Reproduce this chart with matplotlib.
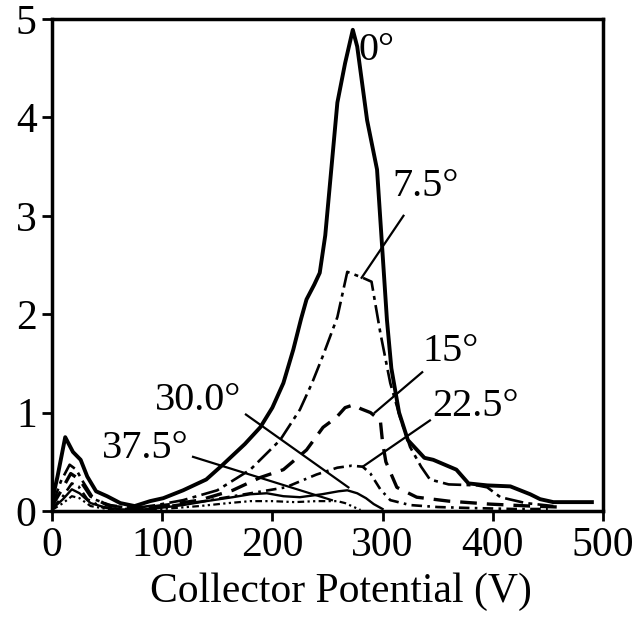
import matplotlib
matplotlib.use("Agg")
import matplotlib.pyplot as plt

plt.rcParams['font.family'] = ['Liberation Serif', 'DejaVu Serif']

# collector current vs collector potential, one curve per angle
x0 = [0, 5, 12, 19, 26, 32, 40, 50, 62, 75, 89, 101, 119, 140, 155, 175, 189, 200, 210, 219,
      226, 231, 238, 243, 248, 252, 259, 266, 273, 277, 286, 295, 298, 300, 304, 308, 315,
      323, 338, 346, 367, 378, 395, 416, 434, 443, 455, 490]
y0 = [0.1, 0.35, 0.75, 0.6, 0.52, 0.35, 0.2, 0.15, 0.08, 0.05, 0.1, 0.13, 0.21, 0.32, 0.47,
      0.68, 0.85, 1.05, 1.3, 1.64, 1.95, 2.15, 2.3, 2.42, 2.8, 3.29, 4.15, 4.55, 4.89, 4.72,
      3.97, 3.47, 2.96, 2.62, 1.94, 1.45, 1.0, 0.72, 0.54, 0.52, 0.42, 0.28, 0.26, 0.25, 0.17,
      0.12, 0.09, 0.09]

x75 = [0, 8, 16, 22, 28, 38, 55, 75, 95, 119, 150, 180, 207, 225, 236, 246, 259, 268, 282,
       290, 298, 307, 316, 325, 335, 343, 360, 386, 395, 407, 430, 455]
y75 = [0.05, 0.3, 0.47, 0.42, 0.3, 0.12, 0.05, 0.03, 0.06, 0.11, 0.21, 0.42, 0.72, 1.03,
       1.3, 1.58, 1.97, 2.43, 2.37, 2.33, 1.81, 1.3, 0.95, 0.65, 0.45, 0.32, 0.27, 0.26, 0.24,
       0.14, 0.08, 0.05]

x15 = [0, 8, 17, 25, 35, 50, 70, 90, 110, 134, 164, 189, 210, 231, 246, 258, 266, 274, 280,
       289, 298, 300, 303, 313, 331, 360, 397, 434, 460]
y15 = [0.05, 0.2, 0.38, 0.32, 0.15, 0.06, 0.03, 0.04, 0.07, 0.11, 0.21, 0.34, 0.42, 0.62,
       0.85, 0.95, 1.05, 1.08, 1.04, 1.0, 0.92, 0.7, 0.5, 0.24, 0.14, 0.1, 0.07, 0.05, 0.04]

x225 = [0, 10, 18, 24, 32, 45, 60, 80, 100, 138, 175, 212, 240, 259, 272, 282, 289, 298,
        307, 325, 350, 380, 420, 450]
y225 = [0.02, 0.15, 0.28, 0.25, 0.12, 0.04, 0.02, 0.02, 0.04, 0.1, 0.17, 0.24, 0.37, 0.44,
        0.46, 0.45, 0.38, 0.22, 0.11, 0.06, 0.04, 0.03, 0.02, 0.02]

x30 = [0, 10, 18, 25, 35, 50, 70, 90, 119, 140, 164, 180, 195, 210, 225, 245, 260, 268,
       277, 285, 292, 300]
y30 = [0.02, 0.12, 0.22, 0.18, 0.08, 0.03, 0.01, 0.02, 0.06, 0.1, 0.14, 0.17, 0.18, 0.15,
       0.14, 0.17, 0.2, 0.21, 0.18, 0.13, 0.07, 0.02]

x375 = [0, 10, 18, 25, 35, 50, 70, 100, 134, 160, 180, 200, 220, 240, 259, 266, 272, 280]
y375 = [0.01, 0.08, 0.15, 0.13, 0.05, 0.02, 0.01, 0.02, 0.05, 0.08, 0.1, 0.1, 0.09, 0.1,
        0.1, 0.08, 0.05, 0.01]

fig = plt.figure(figsize=(6.38, 6.22), dpi=100)
ax = fig.add_axes([0.0815, 0.1785, 0.8635, 0.791])

ax.plot(x0, y0, color='black', lw=2.8)
ax.plot(x75, y75, color='black', lw=1.9, dashes=(7, 2, 1.5, 2))
ax.plot(x15, y15, color='black', lw=2.4, dashes=(5, 3))
ax.plot(x225, y225, color='black', lw=1.9, dashes=(4, 2, 1, 2))
ax.plot(x30, y30, color='black', lw=1.7)
ax.plot(x375, y375, color='black', lw=1.6, dashes=(3, 1.5, 1, 1.5, 1, 1.5))

# angle labels with pointer lines
ax.text(278, 4.68, '0°', fontsize=29, ha='left', va='center')
ax.text(309, 3.3, '7.5°', fontsize=29, ha='left', va='center')
ax.plot([319, 281], [3.0, 2.37], color='black', lw=1.6)
ax.text(336, 1.62, '15°', fontsize=29, ha='left', va='center')
ax.plot([336, 293], [1.41, 1.0], color='black', lw=1.6)
ax.text(345, 1.06, '22.5°', fontsize=29, ha='left', va='center')
ax.plot([343, 282], [0.92, 0.45], color='black', lw=1.6)
ax.text(93, 1.12, '30.0°', fontsize=29, ha='left', va='center')
ax.plot([176, 269], [0.98, 0.24], color='black', lw=1.6)
ax.text(45, 0.63, '37.5°', fontsize=29, ha='left', va='center')
ax.plot([128, 254], [0.55, 0.11], color='black', lw=1.6)

ax.set_xlim(0, 500)
ax.set_ylim(0, 5)
ax.set_xticks([0, 100, 200, 300, 400, 500])
ax.set_yticks([0, 1, 2, 3, 4, 5])
ax.tick_params(direction='out', length=7, width=2, labelsize=30, pad=4)
for s in ax.spines.values():
    s.set_linewidth(2.5)
ax.set_xlabel('Collector Potential (V)', fontsize=30)
ax.xaxis.set_label_coords(0.525, -0.125)

fig.savefig('out.png', dpi=100)
